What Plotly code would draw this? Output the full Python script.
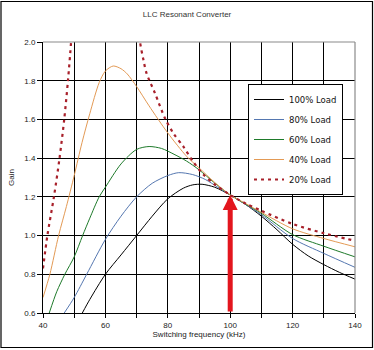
import plotly.graph_objects as go

# ---------------- data ----------------
freq_100 = [52.6, 55, 60, 65, 70, 75, 80, 85, 88, 91, 95, 100, 105, 110, 115, 120, 125, 130, 135, 140]
gain_100 = [0.6, 0.67, 0.8, 0.9, 1.0, 1.1, 1.19, 1.245, 1.262, 1.265, 1.25, 1.21, 1.16, 1.10, 1.03, 0.955, 0.895, 0.85, 0.81, 0.775]

freq_80 = [46.8, 50, 54, 60, 65, 70, 75, 80, 83.5, 88, 92, 96, 100, 105, 110, 120, 130, 140]
gain_80 = [0.6, 0.68, 0.8, 0.98, 1.1, 1.2, 1.27, 1.31, 1.325, 1.315, 1.29, 1.25, 1.21, 1.16, 1.108, 0.985, 0.908, 0.836]

freq_60 = [42, 44.4, 47, 50, 52.7, 55, 58, 60, 65, 70, 74, 78, 82, 86, 90, 95, 100, 105, 110, 120, 130, 140]
gain_60 = [0.6, 0.71, 0.8, 0.89, 1.0, 1.09, 1.2, 1.25, 1.37, 1.445, 1.46, 1.45, 1.42, 1.385, 1.34, 1.272, 1.21, 1.162, 1.115, 1.005, 0.945, 0.89]

freq_40 = [40, 42.2, 45, 47.5, 50, 52.5, 55, 58, 60, 62.5, 65, 67, 70, 74, 80, 86, 90, 95, 100, 105, 110, 120, 130, 140]
gain_40 = [0.68, 0.8, 1.0, 1.15, 1.31, 1.48, 1.63, 1.79, 1.85, 1.876, 1.862, 1.835, 1.77, 1.67, 1.53, 1.41, 1.35, 1.275, 1.21, 1.165, 1.12, 1.035, 0.985, 0.942]

freq_20 = [40, 41.4, 43.5, 45.3, 46.8, 48.0, 49.0, 49.6, None,
           70.5, 71.1, 72.2, 73.2, 75.9, 79.1, 81.8, 85, 88.2, 91.4, 95, 100, 105, 110, 120, 130, 140]
gain_20 = [0.83, 1.0, 1.2, 1.4, 1.6, 1.8, 2.0, 2.15, None,
           2.1, 2.0, 1.907, 1.838, 1.735, 1.606, 1.528, 1.459, 1.38, 1.315, 1.265, 1.21, 1.165, 1.128, 1.06, 1.012, 0.973]

series_names = ["100% Load", "80% Load", "60% Load", "40% Load", "20% Load"]
series_colors = ["#000000", "#5577b0", "#1e7a2a", "#e39a55", "#a8202a"]

x_ticks = [40, 50, 60, 70, 80, 90, 100, 110, 120, 130, 140]
x_tick_labels = ["40", "", "60", "", "80", "", "100", "", "120", "", "140"]
y_ticks = [0.6, 0.8, 1.0, 1.2, 1.4, 1.6, 1.8, 2.0]
y_tick_labels = ["0.6", "0.8", "1.0", "1.2", "1.4", "1.6", "1.8", "2.0"]

resonant_freq = 100
resonant_gain = 1.21

title_text = "LLC Resonant Converter"
x_title = "Switching frequency (kHz)"
y_title = "Gain"

# ---------------- figure ----------------
W, H = 374, 350
ML, MR, MT, MB = 43, 19, 42, 37
FONT = "Liberation Sans, Arial, sans-serif"

fig = go.Figure()
xs = [freq_100, freq_80, freq_60, freq_40, freq_20]
ys = [gain_100, gain_80, gain_60, gain_40, gain_20]
for i, (xv, yv) in enumerate(zip(xs, ys)):
    dotted = i == 4
    fig.add_trace(go.Scatter(
        x=xv, y=yv, mode="lines", name=series_names[i],
        legendgroup=series_names[i],
        connectgaps=False,
        line=dict(color=series_colors[i], width=2.2 if dotted else 1,
                  dash="3px,4px" if dotted else "solid", shape="spline", smoothing=0.8),
    ))

fig.add_annotation(
    x=resonant_freq, y=resonant_gain, ax=resonant_freq, ay=0.6,
    xref="x", yref="y", axref="x", ayref="y",
    showarrow=True, arrowhead=2, arrowsize=0.6, arrowwidth=5,
    arrowcolor="#e3161e", standoff=0, text="",
)

pw = W - ML - MR
ph = H - MT - MB
# outer frame of the whole picture (paper coords extended beyond plot area)
x0 = (1 - ML) / pw
x1 = 1 + (MR - 1.5) / pw
y0 = -(MB - 2.5) / ph
y1 = 1 + (MT - 1.5) / ph
fig.add_shape(type="rect", xref="paper", yref="paper", x0=x0, x1=x1, y0=y0, y1=y1,
              line=dict(color="#000000", width=1.2), layer="below")
# gray top and right plot border
fig.add_shape(type="line", xref="paper", yref="paper", x0=0, x1=1, y0=1, y1=1,
              line=dict(color="#8a8a8a", width=1.2), layer="above")
fig.add_shape(type="line", xref="paper", yref="paper", x0=1, x1=1, y0=0, y1=1,
              line=dict(color="#8a8a8a", width=1.2), layer="above")

fig.update_layout(
    width=W, height=H, autosize=False,
    margin=dict(l=ML, r=MR, t=MT, b=MB, pad=0),
    paper_bgcolor="white", plot_bgcolor="white",
    font=dict(family=FONT, size=8, color="#222222"),
    title=dict(text=title_text, x=0.5, xanchor="center", y=1 - 14 / H, yanchor="middle",
               font=dict(family=FONT, size=8, color="#333333")),
    showlegend=True,
    legend=dict(
        x=(248 - ML) / pw, y=(H - MB - 84) / ph, xanchor="left", yanchor="top",
        bgcolor="white", bordercolor="#000000", borderwidth=1,
        font=dict(family="DejaVu Sans, sans-serif", size=8.5, color="#111111"),
        traceorder="grouped", tracegroupgap=1, itemwidth=30,
    ),
    xaxis=dict(
        range=[40, 140], tickmode="array", tickvals=x_ticks, ticktext=x_tick_labels,
        showgrid=True, gridcolor="#000000", gridwidth=1,
        showline=True, linecolor="#000000", linewidth=1,
        ticks="outside", ticklen=4, tickcolor="#000000",
        zeroline=False, tickfont=dict(size=8, color="#222222"),
        title=dict(text=x_title, standoff=0, font=dict(size=8, color="#222222")),
    ),
    yaxis=dict(
        range=[0.6, 2.0], tickmode="array", tickvals=y_ticks, ticktext=y_tick_labels,
        showgrid=True, gridcolor="#000000", gridwidth=1,
        showline=True, linecolor="#000000", linewidth=1,
        ticks="outside", ticklen=5, tickcolor="#000000",
        zeroline=False, tickfont=dict(size=8, color="#222222"),
        title=dict(text=y_title, standoff=8, font=dict(size=8, color="#222222")),
    ),
)

fig.write_html("out.html")
